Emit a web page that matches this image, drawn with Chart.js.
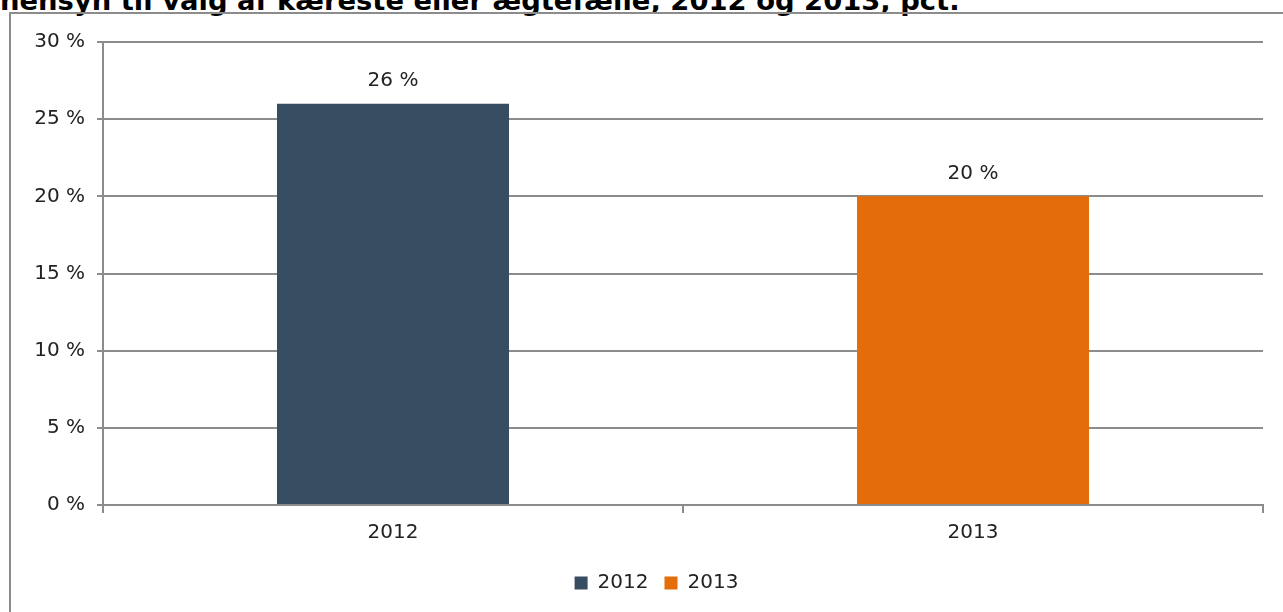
<!DOCTYPE html>
<html>
<head>
<meta charset="utf-8">
<script src="https://cdn.jsdelivr.net/npm/chart.js@4"></script>
<style>
  html, body { margin: 0; padding: 0; background: #fff; width: 1283px; height: 612px; overflow: hidden; }
  #title {
    position: absolute; left: 0; top: -15px; white-space: nowrap;
    font: bold 27.4px "DejaVu Sans", Verdana, sans-serif; color: #000;
  }
  #frame {
    position: absolute; left: 9px; top: 12px; width: 1300px; height: 700px;
    border: 2px solid #8c8c8c; box-sizing: border-box;
  }
  #wrap { position: absolute; left: 0; top: 0; width: 1283px; height: 612px; }
</style>
</head>
<body>
<div id="title">hensyn til valg af kæreste eller ægtefælle, 2012 og 2013, pct.</div>
<div id="frame"></div>
<div id="wrap"><canvas id="chart"></canvas></div>
<script>
// Data
const categories = ['2012', '2013'];
const seriesNames = ['2012', '2013'];
const values2012 = [26, null];
const values2013 = [null, 20];
const yTicks = [0, 5, 10, 15, 20, 25, 30];

const colors = ['#374d62', '#e46c0a'];

// Draw value labels above each bar, using the bar elements' own positions
const valueLabels = {
  id: 'valueLabels',
  afterDatasetsDraw(chart) {
    const ctx = chart.ctx;
    ctx.save();
    ctx.font = '20px "DejaVu Sans", Verdana, sans-serif';
    ctx.fillStyle = '#222';
    ctx.textAlign = 'center';
    ctx.textBaseline = 'middle';
    chart.data.datasets.forEach((ds, i) => {
      chart.getDatasetMeta(i).data.forEach((bar, j) => {
        if (ds.data[j] == null) return;
        ctx.fillText(ds.data[j] + ' %', bar.x, bar.y - 23);
      });
    });
    ctx.restore();
  }
};

// The legend in the reference sits a little right of the page centre
const legendShift = {
  id: 'legendShift',
  afterLayout(chart) { chart.legend.left += 50; }
};

document.addEventListener('DOMContentLoaded', () => {
  Chart.defaults.font.family = '"DejaVu Sans", Verdana, sans-serif';
  Chart.defaults.font.size = 20;
  Chart.defaults.color = '#222';

  const ctx = document.getElementById('chart').getContext('2d');
  new Chart(ctx, {
    type: 'bar',
    data: {
      labels: categories,
      datasets: [
        { label: seriesNames[0], data: values2012, backgroundColor: colors[0] },
        { label: seriesNames[1], data: values2013, backgroundColor: colors[1] }
      ]
    },
    options: {
      responsive: true,
      maintainAspectRatio: false,
      animation: false,
      skipNull: true,
      categoryPercentage: 1,
      barPercentage: 0.4,
      layout: { padding: { top: 42, right: 20, bottom: 9, left: 0 } },
      plugins: {
        tooltip: { enabled: false },
        legend: {
          position: 'bottom',
          labels: { boxWidth: 13, boxHeight: 13, padding: 16, color: '#222' }
        }
      },
      scales: {
        x: {
          grid: { drawOnChartArea: false, color: '#8c8c8c', lineWidth: 2, tickLength: 8 },
          border: { color: '#8c8c8c', width: 2 },
          ticks: { padding: 8 },
          afterFit(scale) { scale.height = 52; }
        },
        y: {
          min: 0,
          max: 30,
          afterBuildTicks(scale) { scale.ticks = yTicks.map(v => ({ value: v })); },
          ticks: { callback: v => v + ' %', padding: 12 },
          grid: { color: '#8c8c8c', lineWidth: 2, tickLength: 6 },
          border: { color: '#8c8c8c', width: 2 },
          afterFit(scale) { scale.width = 103; }
        }
      }
    },
    plugins: [valueLabels, legendShift]
  });
});
</script>
</body>
</html>
